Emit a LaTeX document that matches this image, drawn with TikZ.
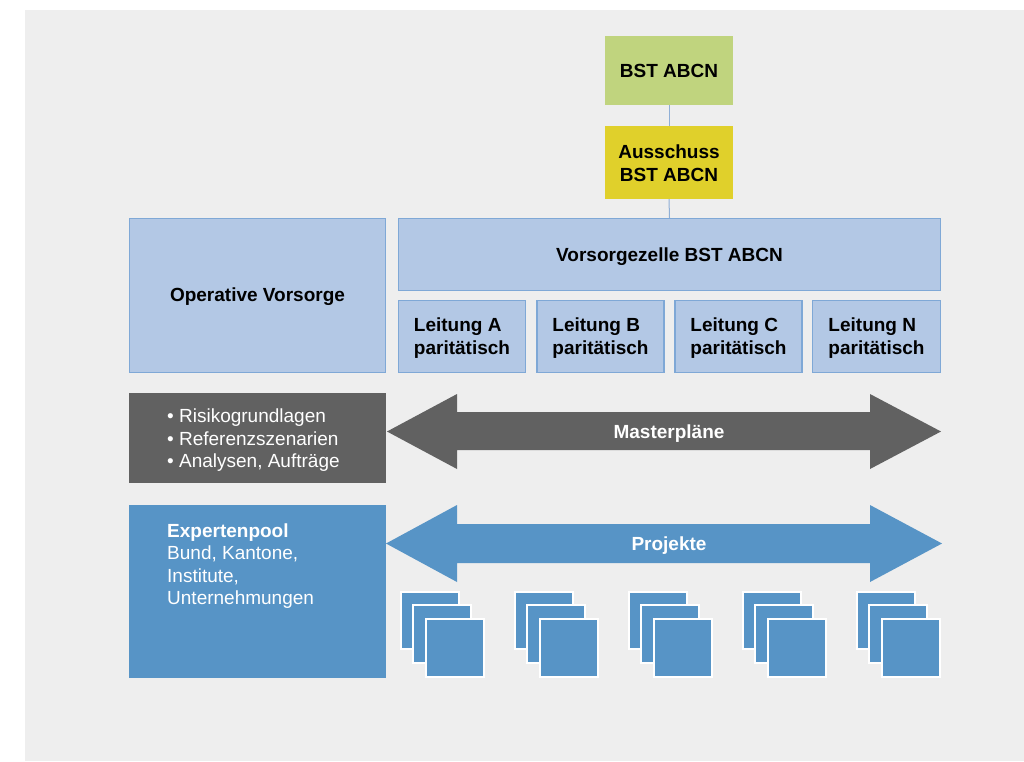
\documentclass[tikz,border=0pt]{standalone}
\usepackage{fontspec}
\setmainfont{Liberation Sans}
\definecolor{bggrey}{HTML}{EEEEEE}
\definecolor{bstgreen}{HTML}{C0D47E}
\definecolor{ausyellow}{HTML}{E0D02B}
\definecolor{lblue}{HTML}{B3C8E5}
\definecolor{lbord}{HTML}{7FA8D6}
\definecolor{dgrey}{HTML}{616161}
\definecolor{mblue}{HTML}{5794C6}
\definecolor{connc}{HTML}{8FAFD6}
\begin{document}
\begin{tikzpicture}[x=1pt,y=-1pt,
  base/.style={rectangle, inner sep=0pt},
  txt/.style={inner sep=0pt, font=\fontsize{19}{23}\selectfont\bfseries, align=left, yshift=-2pt},
  topbox/.style={base, minimum width=128pt},
  lbox/.style={base, draw=lbord, fill=lblue, line width=1.1pt},
  lead/.style={lbox, minimum width=127pt, minimum height=72pt},
  conn/.style={draw=connc, line width=1pt},
  sq/.style={fill=mblue, draw=white, line width=2.5pt},
  wtext/.style={text=white, inner sep=0pt, align=left, font=\fontsize{19}{22.5}\selectfont}
]
\useasboundingbox (0,0) rectangle (1024,761);
\fill[white] (0,0) rectangle (1024,761);
\fill[bggrey] (25,10) rectangle (1024,761);

% top boxes
\node[topbox, fill=bstgreen, minimum height=69pt] (bst) at (669,70.5) {};
\node[txt, yshift=1.5pt] (bstt) at (bst.center) {BST ABCN};
\node[topbox, fill=ausyellow, minimum height=73pt] (aus) at (669,162.5) {};
\node[txt, align=center, yshift=1pt] (aust) at (aus.center) {Ausschuss\\BST ABCN};

% light blue boxes
\node[lbox, minimum width=256pt, minimum height=154pt] (ov) at (257.5,295.5) {};
\node[txt, yshift=0.5pt] (ovt) at (ov.center) {Operative Vorsorge};
\node[lbox, minimum width=542pt, minimum height=72pt] (vz) at (669.5,254.5) {};
\node[txt] (vzt) at (vz.center) {Vorsorgezelle BST ABCN};
\node[lead] (la) at (462,336.5) {};
\node[lead] (lb) at (600.5,336.5) {};
\node[lead] (lc) at (738.5,336.5) {};
\node[lead, minimum width=128pt] (ln) at (876.5,336.5) {};
\node[txt] (lat) at (la.center) {Leitung A\\paritätisch};
\node[txt] (lbt) at (lb.center) {Leitung B\\paritätisch};
\node[txt] (lct) at (lc.center) {Leitung C\\paritätisch};
\node[txt] (lnt) at (ln.center) {Leitung N\\paritätisch};

% connectors
\draw[conn] (bst.south) -- (aus.north);
\draw[conn] (aus.south) -- (vz.north);

% grey row
\node[base, fill=dgrey, minimum width=257pt, minimum height=90pt] (gbox) at (257.5,438) {};
\node[wtext, anchor=west] (glist) at (167,440.5) {• Risikogrundlagen\\• Referenzszenarien\\• Analysen, Aufträge};
\fill[dgrey] (387,431.5) -- (457,394) -- (457,412) -- (870,412) -- (870,394) -- (941,431.5)
  -- (870,469) -- (870,450) -- (457,450) -- (457,469) -- cycle;
\node[txt, text=white, yshift=-0.5pt] (mp) at (669,431.5) {Masterpläne};

% blue row
\node[base, fill=mblue, minimum width=257pt, minimum height=173pt] (ebox) at (257.5,591.5) {};
\node[wtext, anchor=north west] (etext) at (167,523.5) {\textbf{Expertenpool}\\Bund, Kantone,\\Institute,\\Unternehmungen};
\fill[mblue] (386,543.5) -- (457,505) -- (457,524) -- (870,524) -- (870,505) -- (942,543.5)
  -- (870,582) -- (870,563) -- (457,563) -- (457,582) -- cycle;
\node[txt, text=white, yshift=-0.5pt] (pj) at (669,543.5) {Projekte};

% project squares
\foreach \i in {0,...,4}{
  \pgfmathsetmacro{\xo}{401+114*\i}
  \draw[sq] (\xo,592) rectangle ++(58,57);
  \draw[sq] (\xo+12,605) rectangle ++(58,58);
  \draw[sq] (\xo+25,619) rectangle ++(58,58);
}
\end{tikzpicture}
\end{document}
